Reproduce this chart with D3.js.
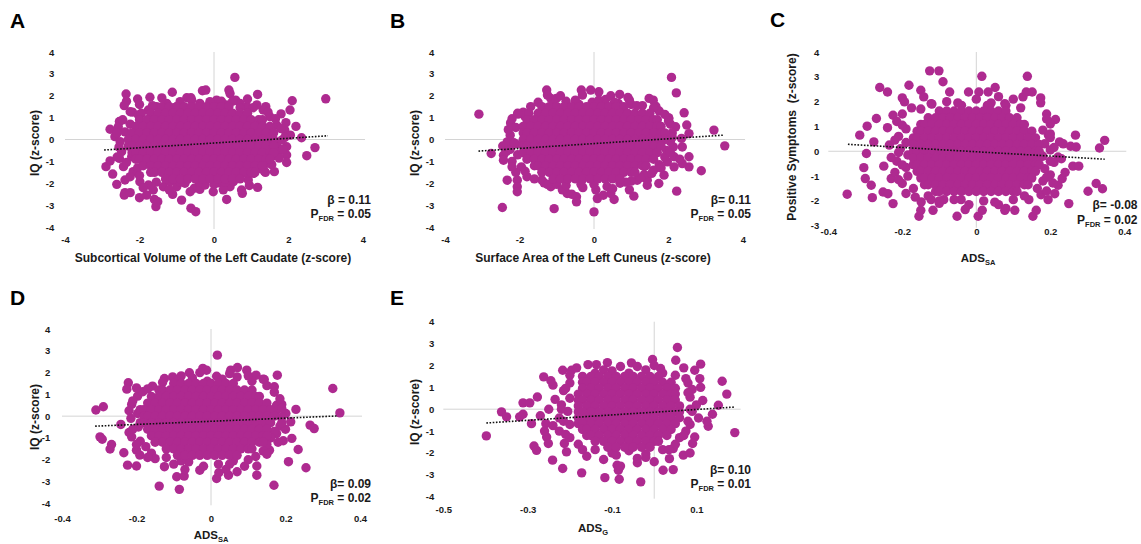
<!DOCTYPE html>
<html>
<head>
<meta charset="utf-8">
<script src="https://cdn.jsdelivr.net/npm/d3@7"></script>
<style>
body { margin: 0; background: #fff; }
svg text { font-family: "Liberation Sans", Arial, sans-serif; font-weight: bold; fill: #1a1a1a; }
.tick text { font-size: 9.5px; }
</style>
</head>
<body>
<svg id="canvas" width="1141" height="544"></svg>
<script>
// ---- data ----
// ring* = individual dots around each cloud, [x, y]
// core* = dense part of the cloud, one row per y: [y, x1, x2, ...]

var ringA = [[0.56,2.84],[3.0,1.86],[-2.36,2.08],[-2.35,1.75],[-2.05,1.85],[-1.72,1.93],[-1.12,2.16],[-0.73,1.91],[-0.62,1.91],[-0.31,2.23],[-0.22,2.26],[0.07,1.8],[0.4,2.26],[0.43,2.1],[0.58,1.8],[1.17,2.06],[2.1,1.77],[2.04,1.35],[1.8,1.17],[1.39,1.5],[-2.41,1.55],[-2.19,1.25],[-2.79,0.47],[-2.54,0.82],[-2.66,0.13],[-2.9,-1.24],[-2.79,-0.98],[-2.54,-0.86],[-2.72,-1.58],[-2.61,-2.05],[-2.39,-1.85],[-2.39,-2.43],[-2.41,-2.54],[-2.25,-2.43],[-2.0,-2.66],[-1.81,-2.54],[-1.6,-2.74],[-1.56,-3.07],[-1.51,-2.84],[-1.11,-2.51],[-0.87,-2.77],[-0.62,-3.14],[-0.49,-3.3],[-0.53,-2.23],[-0.38,-2.28],[-0.02,-2.39],[0.34,-2.74],[0.76,-2.46],[0.74,-2.31],[1.17,-2.19],[1.62,-1.47],[1.38,-1.5],[1.95,-0.71],[1.95,-0.33],[2.35,0.08],[2.49,-0.74],[2.71,-0.37],[1.9,0.43],[1.93,0.77],[1.68,-0.26],
  [-2.25,1.27],[-2.03,1.12],[-2.57,0.58],[-2.39,0.35],[-2.52,-0.1],[-2.48,-0.56],[-2.21,-0.79],[-2.43,-1.24],[-2.17,-1.47],[-2.25,-1.7],[-1.99,-1.93],[-1.76,-2.08],[-1.63,-2.31],[-1.36,-2.16],[-1.18,-1.93],[-1.0,-2.16],[-0.78,-2.0],[-0.64,-2.39],[-0.24,-2.08],[0.12,-1.98],[0.43,-2.16],[0.52,-1.93],[0.92,-1.85],[1.06,-1.55],[1.23,-1.32],[1.41,-1.09],[1.55,-0.79],[1.73,-0.56],[1.82,-0.03],[1.68,0.66],[1.5,1.04],[1.32,1.35],[1.15,1.58],[0.88,1.5],[0.7,1.65],[0.34,1.58],[-0.11,1.73],[-0.38,1.65],[-0.91,1.73],[-1.27,1.65],[-1.54,1.5],[-1.76,1.35],[2.2,0.6],[2.05,0.2],[1.95,-1.05],[-1.9,-2.2],[0.25,-2.3],[0.95,-2.1],[-2.0,1.6],[-1.4,1.9],[0.9,1.85],
  [-2.45,0.9],[-2.6,0.3],[-2.55,-0.35],[-2.6,-0.8],[-2.35,-1.05],[-2.05,-1.3],[-2.0,-1.65],[-1.55,-1.95],[-1.2,-2.3],[-0.9,-1.95],[-0.4,-1.95],[0.0,-2.05],[0.3,-1.95],[0.7,-1.75],[0.9,-1.55],[1.35,-1.45],[1.55,-1.15],[1.75,-0.85],[1.85,-0.45],[1.9,0.1],[1.8,0.5],[1.65,0.95],[1.45,1.25],[1.05,1.45],[0.7,1.45],[0.5,1.75],[0.2,1.75],[-0.6,1.8],[-1.0,1.5],[-1.65,1.55],[-1.95,1.2],[-2.25,0.7]];
var coreA = [
  [1.5,-1.4,-1.2,-1.0,-0.8,-0.6,-0.4,-0.2,0,0.2,0.4],
  [1.2,-1.7,-1.5,-1.3,-1.1,-0.9,-0.7,-0.5,-0.3,-0.1,0.1,0.3,0.5,0.7,0.9],
  [0.9,-2.0,-1.8,-1.6,-1.4,-1.2,-1.0,-0.8,-0.6,-0.4,-0.2,0,0.2,0.4,0.6,0.8,1.0,1.2,1.3],
  [0.6,-2.1,-1.9,-1.7,-1.5,-1.3,-1.1,-0.9,-0.7,-0.5,-0.3,-0.1,0.1,0.3,0.5,0.7,0.9,1.1,1.3,1.5],
  [0.3,-2.2,-2.0,-1.8,-1.6,-1.4,-1.2,-1.0,-0.8,-0.6,-0.4,-0.2,0,0.2,0.4,0.6,0.8,1.0,1.2,1.4,1.6],
  [0,-2.3,-2.1,-1.9,-1.7,-1.5,-1.3,-1.1,-0.9,-0.7,-0.5,-0.3,-0.1,0.1,0.3,0.5,0.7,0.9,1.1,1.3,1.5,1.6],
  [-0.3,-2.3,-2.2,-2.0,-1.8,-1.6,-1.4,-1.2,-1.0,-0.8,-0.6,-0.4,-0.2,0,0.2,0.4,0.6,0.8,1.0,1.2,1.4,1.6],
  [-0.6,-2.2,-2.1,-1.9,-1.7,-1.5,-1.3,-1.1,-0.9,-0.7,-0.5,-0.3,-0.1,0.1,0.3,0.5,0.7,0.9,1.1,1.3,1.5,1.6],
  [-0.9,-2.1,-2.0,-1.8,-1.6,-1.4,-1.2,-1.0,-0.8,-0.6,-0.4,-0.2,0,0.2,0.4,0.6,0.8,1.0,1.2,1.4,1.5],
  [-1.2,-1.9,-1.7,-1.5,-1.3,-1.1,-0.9,-0.7,-0.5,-0.3,-0.1,0.1,0.3,0.5,0.7,0.9,1.1,1.3],
  [-1.5,-1.7,-1.6,-1.4,-1.2,-1.0,-0.8,-0.6,-0.4,-0.2,0,0.2,0.4,0.6,0.8,1.0,1.1],
  [-1.8,-1.3,-1.1,-0.9,-0.7,-0.5,-0.3,-0.1,0.1,0.3,0.5,0.7]
];
var fitA = [[-2.95,-0.48],[3.06,0.17]];

var ringB = [[-3.09,1.16],[-2.76,-0.64],[-2.46,-3.11],[-2.24,0.76],[-2.33,-0.11],[-2.43,-0.72],[-2.43,-0.95],[-2.33,-1.86],[-2.06,-1.86],[-2.06,-2.16],[-2.06,-2.39],[-2.04,1.16],[-1.86,1.07],[-1.27,2.26],[-1.25,2.03],[-1.16,1.88],[-1.01,1.88],[-1.07,-3.16],[-1.34,-1.98],[-1.16,-2.16],[-0.72,-2.47],[-0.47,-2.62],[-0.47,-2.85],[-0.09,2.26],[-0.34,2.26],[-0.31,2.03],[0.13,2.18],[0.13,1.8],[0.31,1.83],[0.0,-3.31],[0.09,-2.7],[0.54,-2.74],[0.45,-2.47],[0.69,2.06],[0.91,1.92],[1.07,-2.59],[1.16,-1.86],[1.43,-1.86],[1.43,-2.09],[1.48,1.88],[1.59,1.8],[1.66,1.52],[2.08,2.84],[2.21,2.13],[2.42,1.22],[2.49,0.66],[2.55,0.27],[3.22,0.43],[3.51,-0.29],[2.37,-0.34],[2.55,-0.79],[2.88,-1.43],[2.55,-1.25],[2.37,-1.1],[2.22,-2.36],[2.15,-1.25],[1.97,-1.02],[1.88,-1.63],[1.74,-2.01],[2.15,-0.79],[2.13,-0.34],[2.19,0.58],[2.01,0.96],
  [-2.2,0.95],[-2.1,0.55],[-2.25,0.2],[-2.1,-0.2],[-2.25,-0.45],[-2.05,-0.7],[-2.2,-1.0],[-1.95,-1.25],[-2.1,-1.5],[-1.8,-1.7],[-1.9,1.25],[-1.7,1.5],[-2.45,-0.3],[1.75,1.3],[2.0,1.0],[2.05,0.7],[2.1,0.3],[2.05,-0.1],[1.95,-0.5],[1.9,-0.8],[1.75,-1.15],[1.6,-1.4],[1.35,-1.6],[2.3,-0.9],[2.35,0.05],[-1.5,1.7],[-1.1,1.6],[-0.75,1.75],[-0.4,1.6],[-0.05,1.7],[0.3,1.6],[0.65,1.65],[1.0,1.6],[1.3,1.55],[-0.9,2.0],[0.45,2.0],[-1.4,-1.85],[-1.0,-2.05],[-0.85,-2.3],[-0.3,-2.2],[0.05,-2.3],[0.35,-2.15],[0.7,-2.0],[1.0,-1.9],[0.95,-2.3],[-0.6,-2.5],[0.25,-2.55],
  [-2.05,1.2],[-2.3,0.45],[-2.15,-0.15],[-2.35,-0.55],[-2.2,-1.25],[-1.85,-1.45],[-1.6,-1.8],[-1.25,-2.05],[-0.75,-2.1],[-0.35,-2.05],[0.0,-2.05],[0.5,-2.25],[0.85,-1.95],[1.25,-1.75],[1.55,-1.55],[1.8,-1.3],[2.05,-0.6],[2.1,0.1],[2.0,0.85],[1.9,1.15],[1.6,1.45],[1.15,1.55],[0.95,1.8],[0.55,1.7],[0.1,1.65],[-0.5,1.8],[-1.4,1.5],[-1.75,1.2]];
var coreB = [
  [1.5,-1.2,-1.0,-0.8,-0.6,-0.4,-0.2,0,0.2,0.4,0.6,0.8],
  [1.2,-1.5,-1.3,-1.1,-0.9,-0.7,-0.5,-0.3,-0.1,0.1,0.3,0.5,0.7,0.9,1.1,1.3,1.5],
  [0.9,-1.8,-1.6,-1.4,-1.2,-1.0,-0.8,-0.6,-0.4,-0.2,0,0.2,0.4,0.6,0.8,1.0,1.2,1.4,1.6,1.7],
  [0.6,-1.9,-1.7,-1.5,-1.3,-1.1,-0.9,-0.7,-0.5,-0.3,-0.1,0.1,0.3,0.5,0.7,0.9,1.1,1.3,1.5,1.7,1.8],
  [0.3,-1.9,-1.8,-1.6,-1.4,-1.2,-1.0,-0.8,-0.6,-0.4,-0.2,0,0.2,0.4,0.6,0.8,1.0,1.2,1.4,1.6,1.8,1.9],
  [0,-1.9,-1.7,-1.5,-1.3,-1.1,-0.9,-0.7,-0.5,-0.3,-0.1,0.1,0.3,0.5,0.7,0.9,1.1,1.3,1.5,1.7,1.9],
  [-0.3,-1.9,-1.8,-1.6,-1.4,-1.2,-1.0,-0.8,-0.6,-0.4,-0.2,0,0.2,0.4,0.6,0.8,1.0,1.2,1.4,1.6,1.8],
  [-0.6,-1.9,-1.7,-1.5,-1.3,-1.1,-0.9,-0.7,-0.5,-0.3,-0.1,0.1,0.3,0.5,0.7,0.9,1.1,1.3,1.5,1.7],
  [-0.9,-1.8,-1.6,-1.4,-1.2,-1.0,-0.8,-0.6,-0.4,-0.2,0,0.2,0.4,0.6,0.8,1.0,1.2,1.4,1.6],
  [-1.2,-1.6,-1.5,-1.3,-1.1,-0.9,-0.7,-0.5,-0.3,-0.1,0.1,0.3,0.5,0.7,0.9,1.1,1.3,1.4],
  [-1.5,-1.4,-1.2,-1.0,-0.8,-0.6,-0.4,-0.2,0,0.2,0.4,0.6,0.8,1.0,1.1],
  [-1.8,-1.1,-0.9,-0.7,-0.5,-0.3,-0.1,0.1,0.3,0.5,0.7]
];
var fitB = [[-3.1,-0.53],[3.49,0.2]];

var ringC = [[-0.349,-1.73],[-0.315,0.65],[-0.295,1.01],[-0.27,1.32],[-0.297,-0.09],[-0.304,-0.66],[-0.3,-1.1],[-0.284,-1.37],[-0.281,-1.87],[-0.261,2.57],[-0.24,2.39],[-0.277,0.38],[-0.252,-1.64],[-0.239,-1.71],[-0.23,-1.1],[-0.225,-2.11],[-0.225,1.45],[-0.2,2.15],[-0.194,1.99],[-0.182,2.66],[-0.126,3.24],[-0.101,3.24],[-0.09,2.8],[-0.072,2.39],[-0.15,2.46],[-0.142,2.19],[-0.122,1.92],[0.015,3.02],[-0.021,2.39],[0.007,2.39],[0.032,2.39],[0.051,2.57],[0.138,3.02],[0.126,2.19],[0.151,2.39],[0.135,2.39],[0.174,2.15],[0.174,1.95],[0.077,1.92],[0.214,1.28],[0.195,0.65],[0.225,0.38],[0.255,0.2],[0.27,0.17],[0.268,0.65],[0.347,0.44],[0.333,0.13],[0.261,-0.6],[0.277,-0.6],[0.302,-1.61],[0.324,-1.3],[0.341,-1.51],[0.232,-1.1],[0.221,-1.37],[0.212,-1.71],[0.25,-2.11],[0.194,-1.95],[0.207,-1.28],[0.221,-0.23],[0.153,-2.62],[0.162,-2.38],[0.142,-1.95],[0.104,-2.38],[0.077,-2.38],[0.016,-2.38],[0.005,-2.62],[-0.052,-2.62],[-0.117,-2.38],[-0.155,-2.62],[-0.15,-2.38],[-0.149,-2.04],[-0.122,-1.95],[-0.088,-1.95],[-0.041,-1.95],
  [-0.2,1.5],[-0.215,1.2],[-0.19,0.9],[-0.21,0.6],[-0.19,0.35],[-0.205,0.1],[-0.185,-0.15],[-0.215,-0.4],[-0.19,-0.65],[-0.22,-0.85],[-0.185,-1.0],[-0.2,-1.3],[-0.17,-1.5],[-0.235,0.25],[-0.24,0.95],[-0.25,-0.6],[-0.23,-0.25],[-0.175,1.75],[-0.165,-1.85],[0.19,1.5],[0.2,1.1],[0.18,0.85],[0.2,0.55],[0.185,0.3],[0.2,0.05],[0.18,-0.2],[0.21,-0.45],[0.185,-0.7],[0.2,-0.95],[0.18,-1.2],[0.165,-1.5],[0.175,-1.75],[0.23,-0.3],[0.235,0.3],[0.24,-0.85],[-0.12,1.9],[-0.08,2.0],[-0.04,1.85],[0.0,2.1],[0.04,1.95],[0.08,1.85],[0.12,1.75],[-0.15,1.7],[0.1,2.1],[0.06,2.2],[-0.13,-1.8],[-0.1,-2.1],[-0.06,-1.95],[-0.02,-2.15],[0.02,-2.0],[0.06,-2.15],[0.1,-1.95],[0.13,-1.8],[0.08,-2.3],[-0.03,-2.35],
  [-0.2,1.05],[-0.22,0.45],[-0.21,-0.05],[-0.2,-0.55],[-0.21,-1.15],[-0.19,-1.7],[0.19,1.3],[0.2,0.7],[0.21,0.15],[0.2,-0.4],[0.19,-1.05],[0.19,-1.6],[-0.05,1.95],[0.03,1.85],[-0.1,-2.0],[0.05,-2.05]];
var coreC = [
  [1.62,-0.1,-0.08,-0.06,-0.04,-0.02,0,0.02,0.04,0.06,0.08],
  [1.35,-0.13,-0.11,-0.09,-0.07,-0.05,-0.03,-0.01,0.01,0.03,0.05,0.07,0.09,0.11],
  [1.08,-0.15,-0.14,-0.12,-0.1,-0.08,-0.06,-0.04,-0.02,0,0.02,0.04,0.06,0.08,0.1,0.12,0.13],
  [0.81,-0.16,-0.15,-0.13,-0.11,-0.09,-0.07,-0.05,-0.03,-0.01,0.01,0.03,0.05,0.07,0.09,0.11,0.13,0.15],
  [0.54,-0.17,-0.16,-0.14,-0.12,-0.1,-0.08,-0.06,-0.04,-0.02,0,0.02,0.04,0.06,0.08,0.1,0.12,0.14,0.16],
  [0.27,-0.17,-0.15,-0.13,-0.11,-0.09,-0.07,-0.05,-0.03,-0.01,0.01,0.03,0.05,0.07,0.09,0.11,0.13,0.15,0.17],
  [0,-0.17,-0.16,-0.14,-0.12,-0.1,-0.08,-0.06,-0.04,-0.02,0,0.02,0.04,0.06,0.08,0.1,0.12,0.14,0.16,0.17],
  [-0.27,-0.17,-0.15,-0.13,-0.11,-0.09,-0.07,-0.05,-0.03,-0.01,0.01,0.03,0.05,0.07,0.09,0.11,0.13,0.15,0.17],
  [-0.54,-0.17,-0.16,-0.14,-0.12,-0.1,-0.08,-0.06,-0.04,-0.02,0,0.02,0.04,0.06,0.08,0.1,0.12,0.14,0.16,0.17],
  [-0.81,-0.16,-0.15,-0.13,-0.11,-0.09,-0.07,-0.05,-0.03,-0.01,0.01,0.03,0.05,0.07,0.09,0.11,0.13,0.15,0.16],
  [-1.08,-0.15,-0.14,-0.12,-0.1,-0.08,-0.06,-0.04,-0.02,0,0.02,0.04,0.06,0.08,0.1,0.12,0.14,0.15],
  [-1.35,-0.14,-0.13,-0.11,-0.09,-0.07,-0.05,-0.03,-0.01,0.01,0.03,0.05,0.07,0.09,0.11,0.13,0.14],
  [-1.62,-0.11,-0.1,-0.08,-0.06,-0.04,-0.02,0,0.02,0.04,0.06,0.08,0.1,0.11]
];
var fitC = [[-0.347,0.28],[0.347,-0.32]];

var ringD = [[-0.309,0.28],[-0.289,0.43],[-0.298,-0.95],[-0.292,-1.06],[-0.271,-1.51],[-0.267,-1.3],[-0.242,-0.38],[-0.234,-1.68],[-0.224,-2.25],[-0.222,1.53],[-0.226,1.24],[-0.2,-2.29],[-0.197,0.92],[-0.183,1.12],[-0.213,0.54],[-0.197,0.12],[-0.213,-0.95],[-0.2,-1.56],[-0.191,-1.79],[-0.157,1.38],[-0.125,1.73],[-0.103,1.8],[-0.139,-3.21],[-0.085,-3.36],[-0.092,-2.78],[-0.072,-2.75],[-0.125,-2.32],[-0.058,1.99],[-0.022,2.19],[-0.012,2.11],[0.017,2.8],[0.015,1.83],[0.053,2.11],[0.071,2.23],[0.096,2.11],[0.121,1.88],[0.178,1.88],[0.143,1.68],[0.176,0.5],[0.19,0.54],[0.228,0.31],[0.214,-0.26],[0.201,0.12],[0.217,-1.02],[0.194,-1.13],[0.234,-1.53],[0.208,-2.09],[0.255,-2.37],[0.327,1.27],[0.346,0.15],[0.266,-0.41],[0.277,-0.57],[0.169,-3.17],[0.123,-2.71],[0.123,-2.29],[0.015,-2.86],[0.021,-2.6],[0.047,-2.71],[-0.03,-2.48],[0.157,-1.56],[0.176,-0.8],
  [-0.21,0.7],[-0.19,0.3],[-0.215,-0.1],[-0.195,-0.5],[-0.22,-0.75],[-0.19,-1.15],[-0.175,-1.4],[-0.16,-1.7],[-0.15,-1.95],[-0.17,1.25],[-0.19,-0.3],[0.17,1.1],[0.185,0.8],[0.175,0.25],[0.19,-0.05],[0.185,-0.45],[0.17,-0.7],[0.16,-1.0],[0.15,-1.3],[0.14,-1.6],[0.12,-1.85],[0.15,1.4],[0.2,-0.6],[-0.13,1.55],[-0.09,1.65],[-0.05,1.75],[-0.01,1.6],[0.03,1.7],[0.07,1.8],[0.11,1.6],[0.14,1.7],[-0.03,2.0],[0.05,1.95],[-0.12,-1.9],[-0.1,-2.2],[-0.06,-2.1],[-0.02,-2.3],[0.02,-2.2],[0.06,-2.05],[0.09,-2.3],[0.1,-2.0],[0.04,-2.45],[-0.07,-2.45],[0.07,-2.55],
  [-0.2,1.3],[-0.22,0.25],[-0.21,-0.6],[-0.2,-1.3],[-0.17,-1.9],[0.17,1.35],[0.19,0.35],[0.19,-0.3],[0.18,-1.2],[0.15,-1.75],[-0.08,1.85],[0.1,1.85],[-0.08,-2.05],[0.05,-2.2]];
var coreD = [
  [1.5,-0.1,-0.08,-0.06,-0.04,-0.02,0,0.02,0.04,0.06],
  [1.2,-0.14,-0.13,-0.11,-0.09,-0.07,-0.05,-0.03,-0.01,0.01,0.03,0.05,0.07,0.09,0.11],
  [0.9,-0.16,-0.14,-0.12,-0.1,-0.08,-0.06,-0.04,-0.02,0,0.02,0.04,0.06,0.08,0.1,0.12,0.13],
  [0.6,-0.17,-0.15,-0.13,-0.11,-0.09,-0.07,-0.05,-0.03,-0.01,0.01,0.03,0.05,0.07,0.09,0.11,0.13,0.15],
  [0.3,-0.18,-0.16,-0.14,-0.12,-0.1,-0.08,-0.06,-0.04,-0.02,0,0.02,0.04,0.06,0.08,0.1,0.12,0.14,0.16],
  [0,-0.18,-0.17,-0.15,-0.13,-0.11,-0.09,-0.07,-0.05,-0.03,-0.01,0.01,0.03,0.05,0.07,0.09,0.11,0.13,0.15,0.17],
  [-0.3,-0.18,-0.16,-0.14,-0.12,-0.1,-0.08,-0.06,-0.04,-0.02,0,0.02,0.04,0.06,0.08,0.1,0.12,0.14,0.16],
  [-0.6,-0.17,-0.15,-0.13,-0.11,-0.09,-0.07,-0.05,-0.03,-0.01,0.01,0.03,0.05,0.07,0.09,0.11,0.13,0.15],
  [-0.9,-0.16,-0.14,-0.12,-0.1,-0.08,-0.06,-0.04,-0.02,0,0.02,0.04,0.06,0.08,0.1,0.12,0.14,0.15],
  [-1.2,-0.15,-0.13,-0.11,-0.09,-0.07,-0.05,-0.03,-0.01,0.01,0.03,0.05,0.07,0.09,0.11,0.13,0.14],
  [-1.5,-0.12,-0.1,-0.08,-0.06,-0.04,-0.02,0,0.02,0.04,0.06,0.08,0.1,0.11],
  [-1.8,-0.09,-0.07,-0.05,-0.03,-0.01,0.01,0.03,0.05,0.07]
];
var fitD = [[-0.311,-0.46],[0.34,0.01]];

var ringE = [[-0.398,-1.22],[-0.362,-0.12],[-0.35,-0.35],[-0.319,-0.35],[-0.311,-0.23],[-0.311,0.29],[-0.295,0.29],[-0.291,-0.66],[-0.285,-1.68],[-0.279,-1.88],[-0.277,0.56],[-0.262,1.48],[-0.257,-0.66],[-0.255,-1.27],[-0.251,-1.57],[-0.241,-2.33],[-0.24,1.1],[-0.217,-2.71],[-0.217,1.78],[-0.213,-1.57],[-0.208,-1.95],[-0.196,1.78],[-0.184,1.89],[-0.172,-2.91],[-0.157,2.04],[-0.137,2.04],[-0.111,2.13],[-0.117,-3.13],[-0.083,-3.2],[-0.088,-2.56],[-0.085,-2.79],[-0.054,2.12],[-0.032,-3.32],[-0.04,-2.45],[-0.004,2.27],[0.015,1.86],[0.021,-2.79],[0.045,-2.76],[0.036,-2.26],[0.055,2.82],[0.051,2.24],[0.07,1.89],[0.11,2.06],[0.096,1.78],[0.108,1.4],[0.161,1.28],[0.172,0.69],[0.152,0.18],[0.138,-0.23],[0.191,-1.07],[0.128,-0.78],[0.096,-1.27],[0.091,-1.57],[0.069,-2.1],[0.085,-2.0],[0.045,-1.8],
  [-0.2,1.2],[-0.215,0.85],[-0.2,0.5],[-0.22,0.2],[-0.205,-0.1],[-0.225,-0.4],[-0.2,-0.7],[-0.225,-1.0],[-0.2,-1.3],[-0.18,-1.6],[-0.24,-0.75],[-0.25,0.0],[-0.235,0.45],[-0.26,-1.0],[-0.245,1.3],[-0.27,-0.3],[0.08,1.2],[0.09,0.9],[0.085,0.55],[0.1,0.2],[0.09,-0.1],[0.105,-0.4],[0.085,-0.7],[0.075,-1.0],[0.06,-1.3],[0.05,-1.6],[0.115,0.4],[0.125,-0.55],[0.11,1.0],[-0.14,1.65],[-0.1,1.75],[-0.06,1.65],[-0.02,1.8],[0.02,1.65],[0.05,1.55],[-0.17,1.5],[-0.08,1.95],[0.0,2.0],[-0.14,-1.85],[-0.1,-2.0],[-0.06,-1.9],[-0.02,-2.05],[0.02,-1.85],[-0.12,-2.3],[-0.04,-2.25],[0.0,-2.4],[-0.16,-2.15],[-0.08,-2.6],
  [-0.2,1.55],[-0.21,0.95],[-0.22,0.0],[-0.215,-0.55],[-0.21,-1.15],[-0.17,-1.85],[0.075,1.4],[0.08,0.75],[0.085,0.0],[0.08,-0.55],[0.07,-1.2],[0.035,-1.85],[-0.12,1.8],[-0.04,1.95],[-0.09,-2.1],[-0.02,-2.2]];
var coreE = [
  [1.5,-0.15,-0.13,-0.11,-0.09,-0.07,-0.05,-0.03,-0.01,0.01],
  [1.23,-0.17,-0.16,-0.14,-0.12,-0.1,-0.08,-0.06,-0.04,-0.02,0,0.02,0.04],
  [0.96,-0.17,-0.15,-0.13,-0.11,-0.09,-0.07,-0.05,-0.03,-0.01,0.01,0.03,0.05],
  [0.69,-0.18,-0.16,-0.14,-0.12,-0.1,-0.08,-0.06,-0.04,-0.02,0,0.02,0.04,0.05],
  [0.42,-0.18,-0.17,-0.15,-0.13,-0.11,-0.09,-0.07,-0.05,-0.03,-0.01,0.01,0.03,0.05],
  [0.15,-0.18,-0.16,-0.14,-0.12,-0.1,-0.08,-0.06,-0.04,-0.02,0,0.02,0.04,0.06],
  [-0.12,-0.18,-0.17,-0.15,-0.13,-0.11,-0.09,-0.07,-0.05,-0.03,-0.01,0.01,0.03,0.05,0.06],
  [-0.39,-0.18,-0.16,-0.14,-0.12,-0.1,-0.08,-0.06,-0.04,-0.02,0,0.02,0.04,0.06],
  [-0.66,-0.18,-0.17,-0.15,-0.13,-0.11,-0.09,-0.07,-0.05,-0.03,-0.01,0.01,0.03,0.05],
  [-0.93,-0.17,-0.16,-0.14,-0.12,-0.1,-0.08,-0.06,-0.04,-0.02,0,0.02,0.04],
  [-1.2,-0.16,-0.15,-0.13,-0.11,-0.09,-0.07,-0.05,-0.03,-0.01,0.01,0.03],
  [-1.47,-0.14,-0.12,-0.1,-0.08,-0.06,-0.04,-0.02,0,0.01],
  [-1.74,-0.11,-0.09,-0.07,-0.05,-0.03,-0.01]
];
var fitE = [[-0.398,-0.63],[0.192,0.1]];

// tick labels
var ticksIQ = [-4,-3,-2,-1,0,1,2,3,4];
var ticksPos = [-3,-2,-1,0,1,2,3,4];
var ticksZ = [-4,-2,0,2,4];
var ticksADS = [-0.4,-0.2,0,0.2,0.4];
var ticksG = [-0.5,-0.3,-0.1,0.1];

var betas = ['β = 0.11', 'β= 0.11', 'β= -0.08', 'β= 0.09', 'β= 0.10'];
var pFdr = ['0.05', '0.05', '0.02', '0.02', '0.01'];

// ---- drawing ----
var svg = d3.select('#canvas');
var DOT = '#ae2a90';

function corePoints(rows) {
    var out = [];
    rows.forEach(function(row) {
        for (var i = 1; i < row.length; i++) {
            out.push([row[i], row[0]]);
        }
    });
    return out;
}

var panels = [
    { letter: 'A', lx: 10, ly: 28, ring: ringA, core: coreA, fit: fitA,
      xDomain: [-4, 4], yDomain: [-4, 4], xRange: [65, 363], yRange: [227, 52],
      xTicks: ticksZ, yTicks: ticksIQ, yPad: 10.7, xPad: 9.6,
      xTitle: ['Subcortical Volume of the Left Caudate (z-score)', ''], xTitleX: 213, xTitleY: 258,
      yTitle: 'IQ (z-score)', yTitleX: 35, yTitleY: 143, statX: 371, statY: 199.5 },
    { letter: 'B', lx: 390, ly: 28, ring: ringB, core: coreB, fit: fitB,
      xDomain: [-4, 4], yDomain: [-4, 4], xRange: [445, 743], yRange: [227, 52],
      xTicks: ticksZ, yTicks: ticksIQ, yPad: 10.7, xPad: 9.6,
      xTitle: ['Surface Area of the Left Cuneus (z-score)', ''], xTitleX: 593, xTitleY: 258,
      yTitle: 'IQ (z-score)', yTitleX: 415, yTitleY: 143, statX: 751, statY: 199.5 },
    { letter: 'C', lx: 770, ly: 27, ring: ringC, core: coreC, fit: fitC,
      xDomain: [-0.4, 0.4], yDomain: [-3, 4], xRange: [828.3, 1124.3], yRange: [225.7, 52],
      xTicks: ticksADS, yTicks: ticksPos, yPad: 9, xPad: 2.6,
      xTitle: ['ADS', 'SA'], xTitleX: 978, xTitleY: 258,
      yTitle: 'Positive Symptoms  (z-score)', yTitleX: 792, yTitleY: 137, statX: 1137.5, statY: 205 },
    { letter: 'D', lx: 10, ly: 305, ring: ringD, core: coreD, fit: fitD,
      xDomain: [-0.4, 0.4], yDomain: [-4, 4], xRange: [62, 360], yRange: [503.3, 329],
      xTicks: ticksADS, yTicks: ticksIQ, yPad: 11.7, xPad: 11.6,
      xTitle: ['ADS', 'SA'], xTitleX: 211, xTitleY: 535,
      yTitle: 'IQ (z-score)', yTitleX: 35, yTitleY: 417, statX: 371, statY: 483.3 },
    { letter: 'E', lx: 390, ly: 305, ring: ringE, core: coreE, fit: fitE,
      xDomain: [-0.5, 0.2], yDomain: [-4, 4], xRange: [443.3, 738.6], yRange: [496.7, 321.7],
      xTicks: ticksG, yTicks: ticksIQ, yPad: 9, xPad: 9.9,
      xTitle: ['ADS', 'G'], xTitleX: 593, xTitleY: 528,
      yTitle: 'IQ (z-score)', yTitleX: 415, yTitleY: 412, statX: 751, statY: 469.3 }
];

function drawPanel(p, index) {
    var x = d3.scaleLinear().domain(p.xDomain).range(p.xRange);
    var y = d3.scaleLinear().domain(p.yDomain).range(p.yRange);
    var g = svg.append('g');

    // zero lines
    g.append('line')
        .attr('x1', x(p.xDomain[0])).attr('x2', x(p.xDomain[1]) + 2)
        .attr('y1', y(0)).attr('y2', y(0))
        .attr('stroke', '#d4d4d4').attr('stroke-width', 1);
    g.append('line')
        .attr('x1', x(0)).attr('x2', x(0))
        .attr('y1', y(p.yDomain[1])).attr('y2', y(p.yDomain[0]) + 2)
        .attr('stroke', '#d4d4d4').attr('stroke-width', 1);

    var points = p.ring.concat(corePoints(p.core));
    g.selectAll('circle')
        .data(points)
        .enter().append('circle')
        .attr('cx', function(d) { return x(d[0]); })
        .attr('cy', function(d) { return y(d[1]); })
        .attr('r', 4.7)
        .attr('fill', DOT);

    // fitted line
    g.append('line')
        .attr('x1', x(p.fit[0][0])).attr('y1', y(p.fit[0][1]))
        .attr('x2', x(p.fit[1][0])).attr('y2', y(p.fit[1][1]))
        .attr('stroke', '#111')
        .attr('stroke-width', 1.6)
        .attr('stroke-dasharray', '1.6,1.6');

    var yAxis = g.append('g')
        .attr('transform', 'translate(' + p.xRange[0] + ',0)')
        .call(d3.axisLeft(y).tickValues(p.yTicks).tickSize(0).tickPadding(p.yPad).tickFormat(String));
    yAxis.select('.domain').remove();

    var xAxis = g.append('g')
        .attr('transform', 'translate(0,' + p.yRange[0] + ')')
        .call(d3.axisBottom(x).tickValues(p.xTicks).tickSize(0).tickPadding(p.xPad).tickFormat(String));
    xAxis.select('.domain').remove();

    // titles
    var xt = g.append('text')
        .attr('x', p.xTitleX).attr('y', p.xTitleY).attr('dy', '0.35em')
        .attr('text-anchor', 'middle')
        .style('font-size', p.xTitle[1] ? '11.5px' : '12px')
        .text(p.xTitle[0]);
    if (p.xTitle[1]) {
        xt.append('tspan').attr('dy', 3).style('font-size', '7.5px').text(p.xTitle[1]);
    }

    g.append('text')
        .attr('transform', 'translate(' + p.yTitleX + ',' + p.yTitleY + ') rotate(-90)')
        .attr('dy', '0.35em')
        .attr('text-anchor', 'middle')
        .style('font-size', '12px')
        .style('white-space', 'pre')
        .text(p.yTitle);

    // stats
    g.append('text')
        .attr('x', p.statX).attr('y', p.statY).attr('dy', '0.35em')
        .attr('text-anchor', 'end')
        .style('font-size', '12px')
        .text(betas[index]);
    var pt = g.append('text')
        .attr('x', p.statX).attr('y', p.statY + 14.5).attr('dy', '0.35em')
        .attr('text-anchor', 'end')
        .style('font-size', '12px')
        .text('P');
    pt.append('tspan').attr('dy', 3).style('font-size', '7.5px').text('FDR');
    pt.append('tspan').attr('dy', -3).text(' = ' + pFdr[index]);

    svg.append('text')
        .attr('x', p.lx).attr('y', p.ly)
        .style('font-size', '21px')
        .style('fill', '#000')
        .text(p.letter);
}

panels.forEach(drawPanel);
</script>
</body>
</html>
